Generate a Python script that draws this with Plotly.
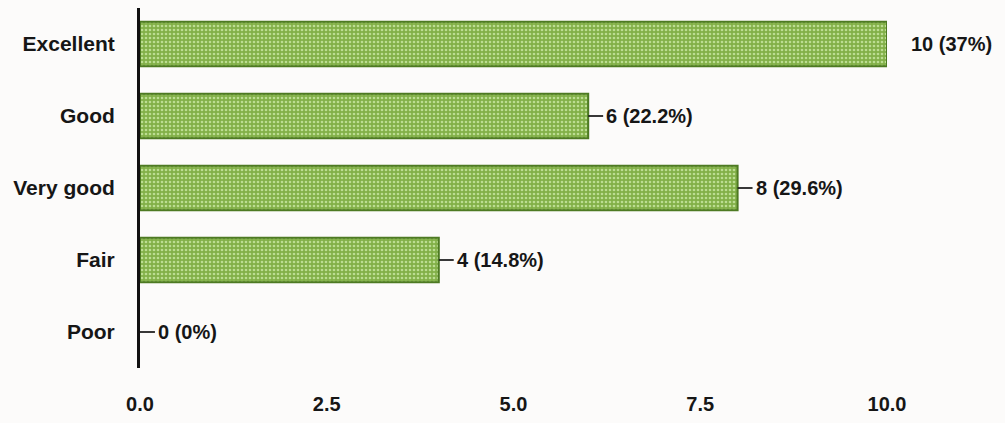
import plotly.graph_objects as go

categories = ["Excellent", "Good", "Very good", "Fair", "Poor"]
counts = [10, 6, 8, 4, 0]
labels = ["10 (37%)", "6 (22.2%)", "8 (29.6%)", "4 (14.8%)", "0 (0%)"]
tick_vals = [0, 2.5, 5, 7.5, 10]
tick_text = ["0.0", "2.5", "5.0", "7.5", "10.0"]

FONT = "Liberation Sans, Arial, sans-serif"
TXT = "#161616"
lead = 0.2

fig = go.Figure()
fig.add_trace(go.Bar(
    y=categories, x=counts, orientation="h",
    marker=dict(
        color="#86b64c",
        line=dict(color="#4d7a22", width=[2 if v > 0 else 0 for v in counts]),
        pattern=dict(shape=".", fgcolor="#bcdd92", bgcolor="#82b048",
                     size=4, solidity=0.35, fillmode="replace"),
    ),
    width=0.62, showlegend=False, hoverinfo="skip",
))

# leader lines (not for the full-length bar, as in the reference)
lx, ly = [], []
for c, v in zip(categories, counts):
    if v == max(counts):
        continue
    lx += [v, v + lead, None]
    ly += [c, c, None]
fig.add_trace(go.Scatter(x=lx, y=ly, mode="lines",
                         line=dict(color="#222222", width=1.8),
                         showlegend=False, hoverinfo="skip", cliponaxis=False))

for c, v, t in zip(categories, counts, labels):
    fig.add_annotation(x=v, y=c, xref="x", yref="y", text=t, showarrow=False,
                       xanchor="left", yanchor="middle",
                       xshift=(22 if v == max(counts) else 16),
                       font=dict(family=FONT, size=20, color=TXT, weight="bold"))

fig.update_layout(
    width=1005, height=423,
    margin=dict(l=140, r=118, t=8, b=44),
    paper_bgcolor="#fcfbfa", plot_bgcolor="#fcfbfa",
    font=dict(family=FONT, size=20, color=TXT),
    xaxis=dict(range=[0, 10], tickvals=tick_vals, ticktext=tick_text,
               showgrid=False, zeroline=False, showline=False,
               ticks="outside", ticklen=18, tickcolor="rgba(0,0,0,0)",
               tickfont=dict(family=FONT, size=20, color=TXT, weight="bold")),
    yaxis=dict(categoryorder="array", categoryarray=categories[::-1],
               range=[-0.5, 4.5], showgrid=False, zeroline=False,
               showline=True, linecolor="#111111", linewidth=3,
               ticks="outside", ticklen=18, tickcolor="rgba(0,0,0,0)",
               tickfont=dict(family=FONT, size=21, color=TXT, weight="bold")),
)

fig.write_html("out.html", config={"displayModeBar": False},
               post_script="document.body.style.margin='0px';")
